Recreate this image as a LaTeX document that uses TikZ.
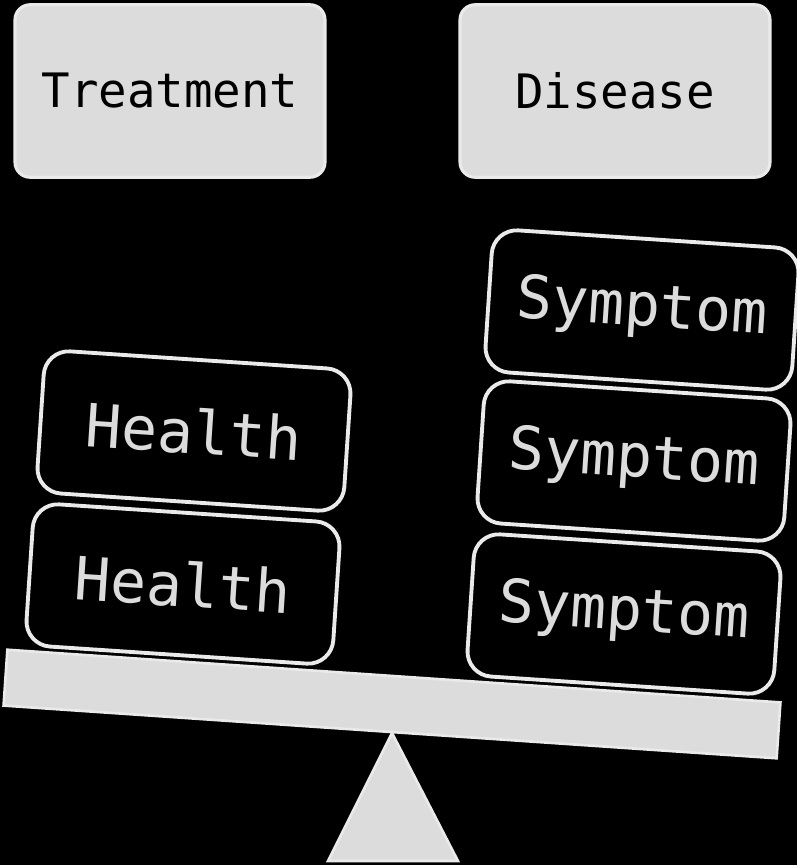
\documentclass[tikz,border=0pt]{standalone}
\usepackage{fontspec}
\setmonofont{DejaVu Sans Mono}
\usepackage{tikz}
\usetikzlibrary{positioning}
\definecolor{scfill}{RGB}{220,220,220}
\definecolor{scline}{RGB}{234,234,234}

\begin{document}
\begin{tikzpicture}[
  x=0.02cm, y=-0.02cm,
  topbox/.style={rounded corners=0.3cm, draw=scline, line width=1.8pt, fill=scfill, minimum width=6.2cm, minimum height=3.45cm, font=\ttfamily\fontsize{27}{32}\selectfont, text=black, inner sep=0pt},
  weight/.style={rounded corners=0.5cm, draw=scline, line width=2.2pt, fill=black, minimum width=6.15cm, minimum height=2.85cm, font=\ttfamily\fontsize{34}{40}\selectfont, text=scfill, inner sep=0pt, rotate=-3.8},
  beam/.style={draw=scline, line width=1.5pt, fill=scfill, minimum width=15.5cm, minimum height=1.12cm, rotate=-3.9, inner sep=0pt}
]
\fill[black] (0,0) rectangle (797,865);
\useasboundingbox (0,0) rectangle (797,865);
% top labels
\node[topbox] (treat) at (170,91) {Treatment};
\node[topbox] (disease) at (615,91) {Disease};
% the scale
\node[beam] (plank) at (392,704) {};
\draw[draw=scline, line width=1.5pt, fill=scfill] (392,733) -- (458,861) -- (328,861) -- cycle;
% left pan
\node[weight] (health1) at (183,584) {Health};
\node[weight] (health2) at (194,431) {Health};
% right pan
\node[weight] (sym1) at (624,614) {Symptom};
\node[weight] (sym2) at (634,461) {Symptom};
\node[weight] (sym3) at (642,310) {Symptom};
\end{tikzpicture}
\end{document}
